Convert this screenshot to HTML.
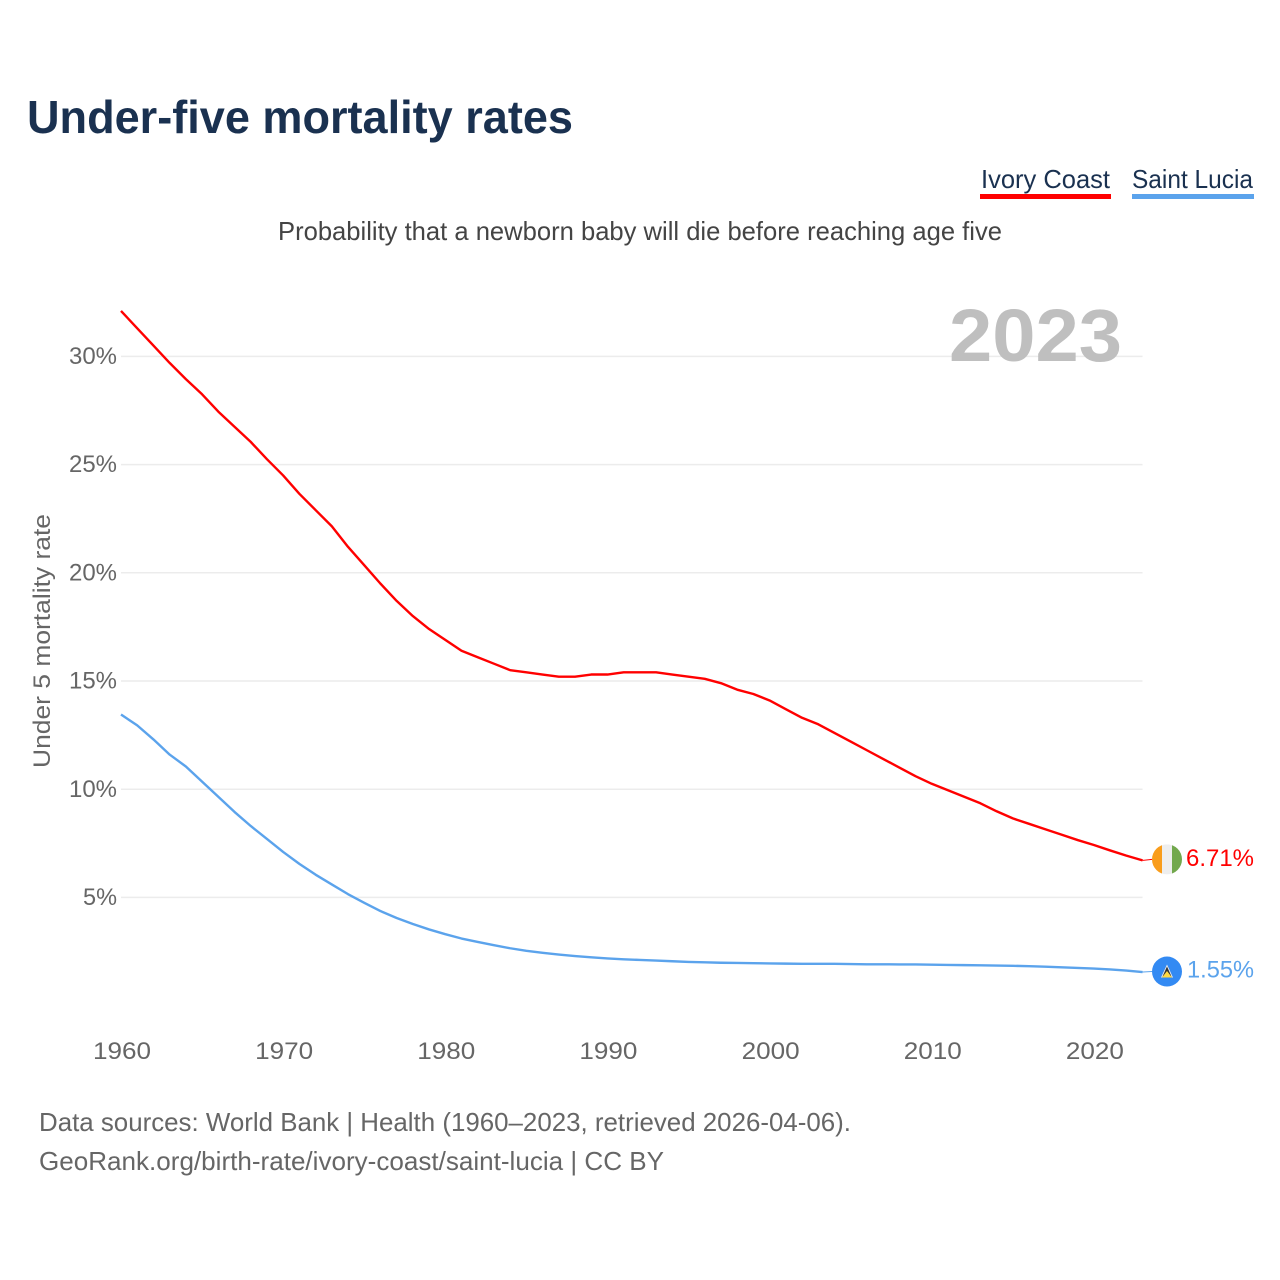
<!DOCTYPE html>
<html lang="en">
<head>
<meta charset="utf-8">
<title>Under-five mortality rates</title>
<style>
html,body{margin:0;padding:0;background:#fff;width:1280px;height:1280px;overflow:hidden}
svg{display:block;font-family:"Liberation Sans",sans-serif}
</style>
</head>
<body>
<svg id="chart" xmlns="http://www.w3.org/2000/svg" width="1280" height="1280" viewBox="0 0 1280 1280">
  <rect x="0" y="0" width="1280" height="1280" fill="#fff"/>
  <text x="27" y="133" font-size="46" font-weight="700" fill="#1a3150" textLength="546" lengthAdjust="spacingAndGlyphs">Under-five mortality rates</text>
  <g>
    <text x="981" y="188" font-size="26" fill="#1a3150" textLength="129" lengthAdjust="spacingAndGlyphs">Ivory Coast</text>
    <rect x="980" y="194" width="131" height="5" fill="#ff0000"/>
  </g>
  <g>
    <text x="1132" y="188" font-size="26" fill="#1a3150" textLength="121" lengthAdjust="spacingAndGlyphs">Saint Lucia</text>
    <rect x="1132" y="194" width="122" height="5" fill="#5ba3ec"/>
  </g>
  <text x="278" y="240" font-size="26" fill="#444" textLength="724" lengthAdjust="spacingAndGlyphs">Probability that a newborn baby will die before reaching age five</text>
  <g id="grid"></g>
  <text x="949" y="361" font-size="74" font-weight="700" fill="#bfbfbf" textLength="173" lengthAdjust="spacingAndGlyphs">2023</text>
  <g id="y-ticks"></g>
  <g id="x-ticks"></g>
  <text transform="translate(50,768) rotate(-90)" x="0" y="0" font-size="24" fill="#666" textLength="254" lengthAdjust="spacingAndGlyphs">Under 5 mortality rate</text>
  <g id="series"></g>
  <g id="flags"></g>
  <text x="39" y="1131" font-size="26" fill="#666" textLength="812" lengthAdjust="spacingAndGlyphs">Data sources: World Bank | Health (1960–2023, retrieved 2026-04-06).</text>
  <text x="39" y="1170" font-size="26" fill="#666" textLength="625" lengthAdjust="spacingAndGlyphs">GeoRank.org/birth-rate/ivory-coast/saint-lucia | CC BY</text>
</svg>
<script>
const firstYear = 1960;
const ivoryCoast = [32.1,31.3,30.5,29.7,28.95,28.25,27.45,26.75,26.05,25.25,24.5,23.65,22.9,22.15,21.2,20.35,19.5,18.7,18.0,17.4,16.9,16.4,16.1,15.8,15.5,15.4,15.3,15.2,15.2,15.3,15.3,15.4,15.4,15.4,15.3,15.2,15.1,14.9,14.6,14.4,14.1,13.7,13.3,13.0,12.6,12.2,11.8,11.4,11.0,10.6,10.25,9.95,9.65,9.35,8.98,8.65,8.4,8.15,7.9,7.65,7.42,7.17,6.93,6.71];
const saintLucia = [13.45,12.95,12.3,11.6,11.05,10.35,9.65,8.95,8.3,7.7,7.1,6.55,6.05,5.6,5.15,4.75,4.37,4.05,3.77,3.52,3.3,3.1,2.94,2.79,2.65,2.53,2.44,2.36,2.29,2.23,2.18,2.14,2.11,2.08,2.05,2.02,2.0,1.98,1.97,1.96,1.95,1.94,1.93,1.93,1.93,1.92,1.91,1.91,1.9,1.9,1.89,1.88,1.87,1.86,1.85,1.84,1.82,1.8,1.77,1.74,1.71,1.67,1.62,1.55];
const yTickValues = [5,10,15,20,25,30];
const xTickYears = [1960,1970,1980,1990,2000,2010,2020];

const NS = 'http://www.w3.org/2000/svg';
function xScale(year){ return 121 + (year - 1960) * 16.215; }
function yScale(v){ return 897.4 - (v - 5) * 21.64; }
function make(tag, attrs, parent){
  const el = document.createElementNS(NS, tag);
  for (const k in attrs) el.setAttribute(k, attrs[k]);
  parent.appendChild(el);
  return el;
}
const grid = document.getElementById('grid');
const yTicks = document.getElementById('y-ticks');
const xTicks = document.getElementById('x-ticks');
const seriesGroup = document.getElementById('series');
const flags = document.getElementById('flags');
const lastYear = firstYear + ivoryCoast.length - 1;

yTickValues.forEach(function(v){
  const line = make('line', {x1:121, x2:xScale(lastYear), y1:yScale(v), y2:yScale(v), stroke:'#ececec', 'stroke-width':1.5}, grid);
  
  
  const t = make('text', {x:117, y:yScale(v)+7.6, 'text-anchor':'end', 'font-size':24, fill:'#666', textLength: v < 10 ? 34 : 48, lengthAdjust:'spacingAndGlyphs'}, yTicks);
  t.textContent = v + '%';
  
  
});

xTickYears.forEach(function(y){
  const t = make('text', {x:xScale(y) + 1, y:1059, 'text-anchor':'middle', 'font-size':24, fill:'#666', textLength:58, lengthAdjust:'spacingAndGlyphs'}, xTicks);
  t.textContent = y;
  
  
});

function linePoints(values){
  return values.map(function(v, i){ return xScale(firstYear + i).toFixed(2) + ',' + yScale(v).toFixed(2); }).join(' ');
}

const ivoryLine = make('polyline', {points:linePoints(ivoryCoast), fill:'none', stroke:'#ff0000', 'stroke-width':2.4, 'stroke-linejoin':'round'}, seriesGroup);


const luciaLine = make('polyline', {points:linePoints(saintLucia), fill:'none', stroke:'#5ba3ec', 'stroke-width':2.4, 'stroke-linejoin':'round'}, seriesGroup);



const defs = make('defs', {}, flags);
const clip = make('clipPath', {id:'ivory-clip'}, defs);
const ivoryEndY = yScale(ivoryCoast[ivoryCoast.length - 1]);
const luciaEndY = yScale(saintLucia[saintLucia.length - 1]);
make('circle', {cx:1167, cy:ivoryEndY - 1, r:15}, clip);

const ivoryLead = make('line', {x1:xScale(lastYear), x2:1152, y1:ivoryEndY, y2:ivoryEndY - 1, stroke:'#ff0000', 'stroke-width':1}, flags);


const luciaLead = make('line', {x1:xScale(lastYear), x2:1152, y1:luciaEndY, y2:luciaEndY - 0.5, stroke:'#5ba3ec', 'stroke-width':1}, flags);



const ivoryFlag = make('g', {'clip-path':'url(#ivory-clip)'}, flags);


make('rect', {x:1152, y:ivoryEndY - 16, width:10, height:30, fill:'#f99d1c'}, ivoryFlag);
make('rect', {x:1162, y:ivoryEndY - 16, width:10, height:30, fill:'#eeeeee'}, ivoryFlag);
make('rect', {x:1172, y:ivoryEndY - 16, width:10, height:30, fill:'#72a84d'}, ivoryFlag);

const luciaFlag = make('g', {}, flags);


const fy = luciaEndY - 0.5;
make('circle', {cx:1167, cy:fy, r:15, fill:'#338af3'}, luciaFlag);
make('polygon', {points:[1167,fy-7,1173,fy+6,1161,fy+6].join(' '), fill:'#f0f0f0'}, luciaFlag);
make('polygon', {points:[1167,fy-5,1171.5,fy+5,1162.5,fy+5].join(' '), fill:'#333333'}, luciaFlag);
make('polygon', {points:[1167,fy-0.5,1172,fy+6,1162,fy+6].join(' '), fill:'#ffda44'}, luciaFlag);

const ivoryValue = make('text', {x:1254, y:ivoryEndY + 5.6, 'text-anchor':'end', 'font-size':24, fill:'#ff0000', textLength:68, lengthAdjust:'spacingAndGlyphs'}, flags);
ivoryValue.textContent = ivoryCoast[ivoryCoast.length - 1].toFixed(2) + '%';


const luciaValue = make('text', {x:1254, y:luciaEndY + 5.6, 'text-anchor':'end', 'font-size':24, fill:'#5ba3ec', textLength:67, lengthAdjust:'spacingAndGlyphs'}, flags);
luciaValue.textContent = saintLucia[saintLucia.length - 1].toFixed(2) + '%';


</script>
</body>
</html>
